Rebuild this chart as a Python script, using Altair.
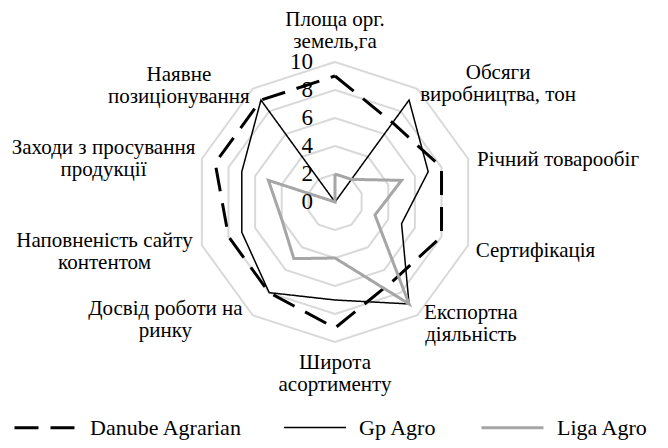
import math
import altair as alt
import pandas as pd

# ---------------- data ----------------
categories = [
    "Площа орг.\nземель,га",
    "Обсяги\nвиробництва, тон",
    "Річний товарообіг",
    "Сертифікація",
    "Експортна\nдіяльність",
    "Широта\nасортименту",
    "Досвід роботи на\nринку",
    "Наповненість сайту\nконтентом",
    "Заходи з просування\nпродукції",
    "Наявне\nпозиціонування",
]
series_names = ["Danube Agrarian", "Gp Agro", "Liga Agro"]
danube_agrarian = [9, 7, 8, 8, 7, 9, 8, 8, 9, 9]
gp_agro = [0, 9, 7, 5, 9, 7, 8, 7, 7, 9]
liga_agro = [2, 2, 5, 3, 9, 4, 5, 4, 5, 0]
tick_values = [0, 2, 4, 6, 8, 10]
ring_values = [2, 4, 6, 8, 10]

# ---------------- layout ----------------
W, H = 652, 432
PX = 14.0                      # pixels per value unit
CX, CY = 327, 194              # centre inside plot area
x_dom = [-CX / PX, (W - CX) / PX]
y_dom = [(CY - H) / PX, CY / PX]
FONT = "Liberation Serif"
LH = 22
# label block geometry (px) used to centre multi-line text beside each spoke
label_block_w = [0, 155, 169, 124, 94, 0, 168, 184, 186, 141]
label_r = [12.25, 10.4, 10.4, 10.4, 10.8, 12.3, 10.4, 10.4, 10.4, 10.4]
label_dy = [0, 0, 3, 4, 0, 0, 0, 5, 2, 2]

n = len(categories)
angles = [2 * math.pi * i / n for i in range(n)]


def polar(v, i):
    a = angles[i % n]
    return v * math.sin(a), v * math.cos(a)


rows = []
for name, vals in zip(series_names, [danube_agrarian, gp_agro, liga_agro]):
    for k in range(n + 1):
        x, y = polar(vals[k % n], k)
        rows.append({"series": name, "idx": k, "x": x, "y": y, "value": vals[k % n]})
series_df = pd.DataFrame(rows)

grows = []
for r in ring_values:
    for k in range(n + 1):
        x, y = polar(r, k)
        grows.append({"ring": r, "idx": k, "x": x, "y": y})
grid_df = pd.DataFrame(grows)

lrows = []
for i, lab in enumerate(categories):
    x, y = polar(label_r[i], i)
    s = math.sin(angles[i])
    side = 0 if abs(s) < 1e-6 else (1 if s > 0 else -1)
    x += side * label_block_w[i] / 2 / PX
    nlines = lab.count("\n") + 1
    y += (nlines - 1) * LH / 2 / PX - label_dy[i] / PX
    lrows.append({"label": lab, "x": x, "y": y})
label_df = pd.DataFrame(lrows)

tick_df = pd.DataFrame({"t": [str(t) for t in tick_values], "y": tick_values, "x": [-22 / PX] * len(tick_values)})

xs = alt.Scale(domain=x_dom, nice=False, zero=False)
ys = alt.Scale(domain=y_dom, nice=False, zero=False)

grid = alt.Chart(grid_df).mark_line(color="#d9d9d9", strokeWidth=2).encode(
    x=alt.X("x:Q", scale=xs, axis=None),
    y=alt.Y("y:Q", scale=ys, axis=None),
    detail="ring:N",
    order="idx:Q",
)

lines = alt.Chart(series_df).mark_line().encode(
    x=alt.X("x:Q", scale=xs, axis=None),
    y=alt.Y("y:Q", scale=ys, axis=None),
    order="idx:Q",
    color=alt.Color(
        "series:N",
        scale=alt.Scale(domain=series_names, range=["#000000", "#000000", "#a6a6a6"]),
        legend=alt.Legend(
            title=None, orient="none", legendX=5, legendY=387, direction="horizontal",
            symbolType="stroke", symbolSize=3844, labelFont=FONT, labelFontSize=22,
            labelColor="#000000", labelOffset=12, columnPadding=38, labelLimit=400,
        ),
    ),
    strokeDash=alt.StrokeDash(
        "series:N",
        scale=alt.Scale(domain=series_names, range=[[24, 12], [1, 0], [1, 0]]),
    ),
    strokeWidth=alt.StrokeWidth(
        "series:N",
        scale=alt.Scale(type="ordinal", domain=series_names, range=[3, 1.5, 3]),
    ),
)

labels = alt.Chart(label_df).mark_text(
    font=FONT, fontSize=21, align="center", baseline="middle", lineBreak="\n", lineHeight=LH, color="#000000"
).encode(
    x=alt.X("x:Q", scale=xs, axis=None),
    y=alt.Y("y:Q", scale=ys, axis=None),
    text="label:N",
)

ticks = alt.Chart(tick_df).mark_text(
    font=FONT, fontSize=23, align="right", baseline="middle", color="#000000"
).encode(
    x=alt.X("x:Q", scale=xs, axis=None),
    y=alt.Y("y:Q", scale=ys, axis=None),
    text="t:N",
)

chart = alt.layer(grid, lines, labels, ticks).properties(
    width=W, height=H, autosize="none", padding=0
).configure_view(stroke=None)

chart.save("out.html", embed_options={"renderer": "svg", "actions": False})
